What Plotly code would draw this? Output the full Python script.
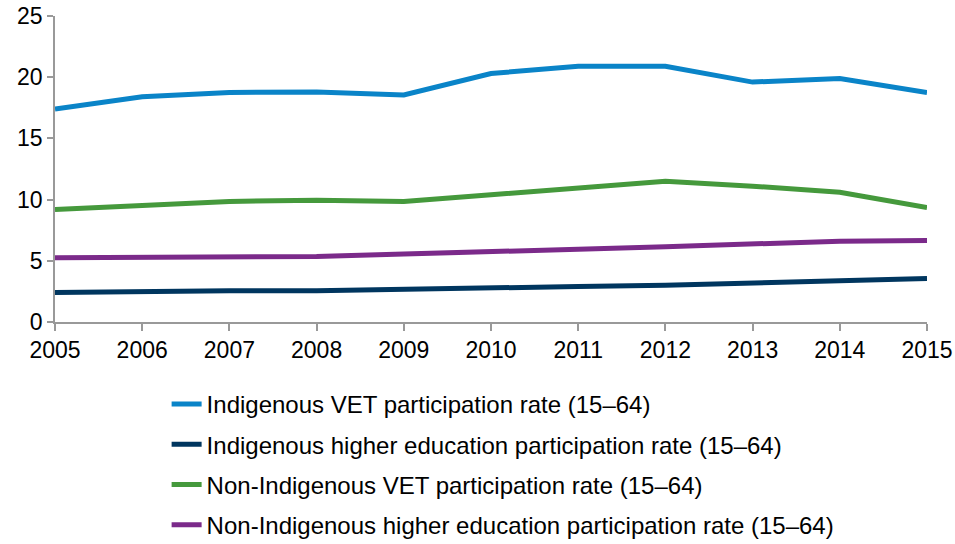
import plotly.graph_objects as go

years = [2005, 2006, 2007, 2008, 2009, 2010, 2011, 2012, 2013, 2014, 2015]
indig_vet = [17.4, 18.4, 18.75, 18.8, 18.55, 20.3, 20.9, 20.9, 19.6, 19.9, 18.75]
indig_he = [2.4, 2.5, 2.55, 2.55, 2.7, 2.75, 2.9, 3.0, 3.2, 3.4, 3.55]
nonindig_vet = [9.2, 9.55, 9.85, 9.95, 9.85, 10.4, 11.0, 11.5, 11.1, 10.6, 9.35]
nonindig_he = [5.25, 5.3, 5.37, 5.35, 5.55, 5.8, 5.95, 6.15, 6.4, 6.6, 6.65]

names = [
    "Indigenous VET participation rate (15\u201364)",
    "Indigenous higher education participation rate (15\u201364)",
    "Non-Indigenous VET participation rate (15\u201364)",
    "Non-Indigenous higher education participation rate (15\u201364)",
]
series = [indig_vet, indig_he, nonindig_vet, nonindig_he]
colors = ["#0A84C8", "#00365F", "#45993C", "#7B2A8A"]

fig = go.Figure()
for i, (n, s, c) in enumerate(zip(names, series, colors)):
    fig.add_trace(go.Scatter(x=years, y=s, mode="lines", name=n,
                             line=dict(color=c, width=5), legendgroup=f"g{i}"))

fig.update_layout(
    width=955, height=544,
    margin=dict(l=55, r=28, t=16, b=222, autoexpand=False),
    paper_bgcolor="white", plot_bgcolor="white",
    font=dict(family="Liberation Sans, Arial, sans-serif", size=23, color="black"),
    showlegend=True,
    legend=dict(x=0.128, y=-0.196, xanchor="left", yanchor="top",
                font=dict(size=24), tracegroupgap=6, traceorder="grouped",
                bgcolor="rgba(0,0,0,0)"),
    xaxis=dict(range=[2005, 2015], tickmode="array", tickvals=years,
               ticks="outside", ticklen=7, tickcolor="#999999", tickwidth=1.5,
               showline=True, linecolor="#999999", linewidth=1.5,
               showgrid=False, zeroline=False, fixedrange=True, automargin=False,
               ticklabeloverflow="allow"),
    yaxis=dict(range=[0, 25], tickmode="array", tickvals=[0, 5, 10, 15, 20, 25],
               ticks="outside", ticklen=6, tickcolor="#999999", tickwidth=1.5,
               showline=True, linecolor="#999999", linewidth=1.5,
               showgrid=False, zeroline=False, fixedrange=True, automargin=False,
               ticklabeloverflow="allow"),
)

fig.write_html("out.html", config={"displayModeBar": False},
               post_script="document.body.style.margin='0';document.body.style.overflow='hidden';")
